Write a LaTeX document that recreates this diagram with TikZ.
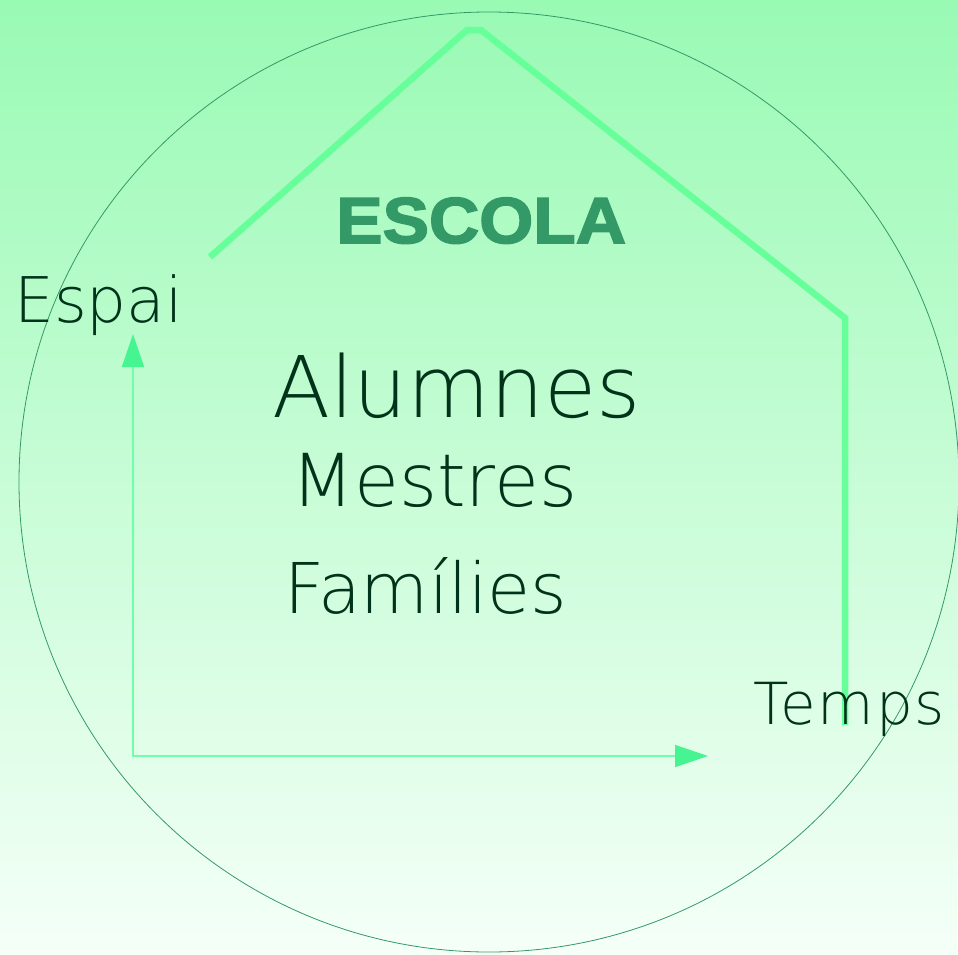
\documentclass[tikz,border=0pt]{standalone}
\usepackage{fontspec}
\setmainfont{DejaVu Sans}
\newfontfamily\thinfont{DejaVu Sans ExtraLight}
\newfontfamily\widethinfont[LetterSpace=3]{DejaVu Sans ExtraLight}
\newfontfamily\heavyfont[FakeStretch=1.07, FakeBold=2.5]{Liberation Sans Bold}
\usetikzlibrary{arrows.meta}
\definecolor{bgtop}{RGB}{153,250,180}
\definecolor{bgbottom}{RGB}{245,255,248}
\definecolor{ring}{RGB}{51,153,102}
\definecolor{roof}{RGB}{102,255,153}
\definecolor{axisline}{RGB}{110,255,170}
\definecolor{axistip}{RGB}{70,245,145}
\definecolor{ink}{RGB}{0,51,25}
\begin{document}
\begin{tikzpicture}[x=1pt, y=-1pt,
    word/.style={inner sep=0pt, anchor=base west, text=ink, font=\thinfont},
    axis/.style={draw=axisline, line width=1.5pt,
        {Triangle[length=33pt, width=22pt, color=axistip]}-{Triangle[length=33pt, width=22pt, color=axistip]}},
    house/.style={draw=roof, line width=6.5pt, line join=miter}]
    \useasboundingbox (0,0) rectangle (958,954);
    \shade[top color=bgtop, bottom color=bgbottom] (0,0) rectangle (958,954);
    \node[draw=ring, line width=0.8pt, circle, minimum size=940pt, inner sep=0pt] (ring) at (489,482) {};
    \draw[house] (210,257) -- (467,30) -- (481,30) -- (845,318) -- (845,725);
    \node[inner sep=0pt, anchor=base west, text=ring, font=\heavyfont\fontsize{65}{65}\selectfont] (escola) at (336,243) {ESCOLA};
    \node[word, font=\thinfont\fontsize{63}{63}\selectfont] (espai) at (14,322) {Espai};
    \node[word, font=\thinfont\fontsize{85}{85}\selectfont] (alumnes) at (272,417) {Alumnes};
    \node[word, font=\thinfont\fontsize{73}{73}\selectfont] (mestres) at (291,506) {Mestres};
    \node[word, font=\thinfont\fontsize{70}{70}\selectfont] (families) at (284,613) {Famílies};
    \node[word, font=\widethinfont\fontsize{58}{58}\selectfont] (temps) at (753,724) {Temps};
    \coordinate (origin) at (133,756);
    \coordinate (espaitip) at (133,334);
    \coordinate (tempstip) at (708,756);
    \draw[axis] (espaitip) -- (origin) -- (tempstip);
\end{tikzpicture}
\end{document}
